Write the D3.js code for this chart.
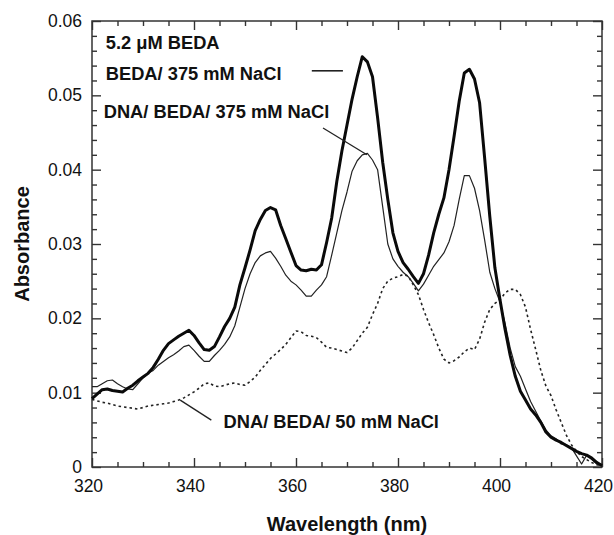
<!DOCTYPE html>
<html>
<head>
<meta charset="utf-8">
<script src="https://cdn.jsdelivr.net/npm/d3@7"></script>
<style>
  html, body { margin: 0; padding: 0; background: #fff; }
  svg text { font-family: "Liberation Sans", Arial, Helvetica, sans-serif; fill: #111; }
</style>
</head>
<body>
<div id="chart"></div>
<script>
// wavelength grid (nm), 1 nm steps
const wavelength = d3.range(320, 421, 1);

// BEDA / 375 mM NaCl (thick line)
const bedaHighSalt = [
  0.0092, 0.0098, 0.0104, 0.0105, 0.0103, 0.0102, 0.0101, 0.0106, 0.0110, 0.0116,
  0.0121, 0.0126, 0.0134, 0.0145, 0.0157, 0.0166, 0.0171, 0.0176, 0.0180, 0.0184,
  0.0177, 0.0167, 0.0158, 0.0157, 0.0162, 0.0175, 0.0189, 0.0200, 0.0215, 0.0245,
  0.0268, 0.0292, 0.0318, 0.0333, 0.0345, 0.0349, 0.0346, 0.0325, 0.0307, 0.0289,
  0.0271, 0.0265, 0.0264, 0.0266, 0.0265, 0.0272, 0.0302, 0.0335, 0.0384, 0.0425,
  0.0460, 0.0495, 0.0525, 0.0552, 0.0545, 0.0525, 0.0470, 0.0410, 0.0360, 0.0315,
  0.0290, 0.0275, 0.0266, 0.0256, 0.0247, 0.0260, 0.0285, 0.0315, 0.0340, 0.0362,
  0.0400, 0.0445, 0.0492, 0.0530, 0.0535, 0.0522, 0.0490, 0.0415, 0.0337, 0.0268,
  0.0225, 0.0185, 0.0150, 0.0122, 0.0102, 0.0090, 0.0078, 0.0070, 0.0060, 0.0047,
  0.0040, 0.0036, 0.0033, 0.0029, 0.0025, 0.0021, 0.0018, 0.0016, 0.0012, 0.0006,
  0.0002
];

// DNA / BEDA / 375 mM NaCl (thin line)
const dnaBedaHighSalt = [
  0.0108, 0.0108, 0.0112, 0.0116, 0.0117, 0.0112, 0.0108, 0.0105, 0.0104, 0.0112,
  0.0120, 0.0126, 0.0130, 0.0137, 0.0142, 0.0147, 0.0151, 0.0156, 0.0162, 0.0164,
  0.0157, 0.0149, 0.0142, 0.0142, 0.0150, 0.0157, 0.0165, 0.0175, 0.0190, 0.0215,
  0.0240, 0.0260, 0.0275, 0.0284, 0.0288, 0.0290, 0.0281, 0.0270, 0.0258, 0.0250,
  0.0245, 0.0238, 0.0230, 0.0230, 0.0238, 0.0245, 0.0256, 0.0285, 0.0315, 0.0345,
  0.0370, 0.0398, 0.0412, 0.0420, 0.0422, 0.0413, 0.0400, 0.0350, 0.0300, 0.0280,
  0.0270, 0.0262, 0.0256, 0.0247, 0.0237, 0.0246, 0.0258, 0.0270, 0.0279, 0.0288,
  0.0303, 0.0325, 0.0360, 0.0392, 0.0392, 0.0375, 0.0345, 0.0305, 0.0262, 0.0240,
  0.0222, 0.0193, 0.0160, 0.0135, 0.0122, 0.0105, 0.0088, 0.0075, 0.0062, 0.0050,
  0.0042, 0.0038, 0.0031, 0.0030, 0.0026, 0.0015, 0.0004, 0.0016, 0.0010, 0.0004,
  0.0001
];

// DNA / BEDA / 50 mM NaCl (dotted line)
const dnaBedaLowSalt = [
  0.0091, 0.0089, 0.0087, 0.0086, 0.0084, 0.0082, 0.0081, 0.0080, 0.0079, 0.0078,
  0.0080, 0.0082, 0.0083, 0.0084, 0.0085, 0.0086, 0.0088, 0.0090, 0.0093, 0.0097,
  0.0101, 0.0106, 0.0112, 0.0113, 0.0109, 0.0108, 0.0110, 0.0112, 0.0113, 0.0111,
  0.0110, 0.0115, 0.0121, 0.0130, 0.0138, 0.0146, 0.0152, 0.0158, 0.0165, 0.0174,
  0.0183, 0.0182, 0.0177, 0.0176, 0.0174, 0.0168, 0.0161, 0.0160, 0.0158, 0.0156,
  0.0154, 0.0160, 0.0170, 0.0180, 0.0188, 0.0205, 0.0220, 0.0240, 0.0250, 0.0254,
  0.0256, 0.0259, 0.0257, 0.0245, 0.0232, 0.0212, 0.0194, 0.0178, 0.0160, 0.0145,
  0.0140, 0.0143, 0.0148, 0.0155, 0.0160, 0.0158, 0.0172, 0.0195, 0.0212, 0.0220,
  0.0225, 0.0234, 0.0239, 0.0239, 0.0232, 0.0215, 0.0185, 0.0158, 0.0130, 0.0109,
  0.0096, 0.0077, 0.0060, 0.0043, 0.0030, 0.0021, 0.0014, 0.0010, 0.0006, 0.0003,
  0.0001
];

const xTicks = [320, 340, 360, 380, 400, 420];
const yTicks = [0, 0.01, 0.02, 0.03, 0.04, 0.05, 0.06];

const outerW = 614, outerH = 535;
const margin = { top: 21, right: 12, bottom: 68, left: 92 };
const width = outerW - margin.left - margin.right;
const height = outerH - margin.top - margin.bottom;

const svg = d3.select("#chart")
    .append("svg")
    .attr("width", outerW)
    .attr("height", outerH)
    .append("g")
    .attr("transform", "translate(" + margin.left + "," + margin.top + ")");

const x = d3.scaleLinear().domain([320, 420]).range([0, width]);
const y = d3.scaleLinear().domain([0, 0.06]).range([height, 0]);

const xMinor = d3.range(320, 421, 5).filter(d => !xTicks.includes(d));
const yMinor = d3.range(0, 31, 1).map(i => i * 0.002).filter((d, i) => i % 5 !== 0);

function styleAxis(g) {
    g.select(".domain").remove();
    g.selectAll(".tick line").attr("stroke", "#333").attr("stroke-width", 1.4);
    g.selectAll(".tick text")
        .style("font-size", "17.5px")
        .style("font-family", "'Liberation Sans', Arial, sans-serif")
        .attr("fill", "#111");
}

// bottom
svg.append("g").attr("transform", "translate(0," + height + ")")
    .call(d3.axisBottom(x).tickValues(xTicks).tickSize(-9).tickPadding(13).tickFormat(d3.format("d")))
    .call(styleAxis)
    .selectAll(".tick text").attr("dx", -4);
svg.append("g").attr("transform", "translate(0," + height + ")")
    .call(d3.axisBottom(x).tickValues(xMinor).tickSize(-5).tickFormat(""))
    .call(styleAxis);
// top
svg.append("g")
    .call(d3.axisTop(x).tickValues(xTicks).tickSize(-9).tickFormat(""))
    .call(styleAxis);
svg.append("g")
    .call(d3.axisTop(x).tickValues(xMinor).tickSize(-5).tickFormat(""))
    .call(styleAxis);
// left
svg.append("g")
    .call(d3.axisLeft(y).tickValues(yTicks).tickSize(-9).tickPadding(10)
        .tickFormat(d => d === 0 ? "0" : d.toFixed(2)))
    .call(styleAxis);
svg.append("g")
    .call(d3.axisLeft(y).tickValues(yMinor).tickSize(-5).tickFormat(""))
    .call(styleAxis);
// right
svg.append("g").attr("transform", "translate(" + width + ",0)")
    .call(d3.axisRight(y).tickValues(yTicks).tickSize(-9).tickFormat(""))
    .call(styleAxis);
svg.append("g").attr("transform", "translate(" + width + ",0)")
    .call(d3.axisRight(y).tickValues(yMinor).tickSize(-5).tickFormat(""))
    .call(styleAxis);

// frame
svg.append("rect")
    .attr("x", 0).attr("y", 0)
    .attr("width", width).attr("height", height)
    .attr("fill", "none")
    .attr("stroke", "#333")
    .attr("stroke-width", 1.5);

// axis titles
svg.append("text")
    .attr("text-anchor", "middle")
    .attr("x", width / 2)
    .attr("y", height + 64)
    .style("font-size", "20px")
    .style("font-weight", "bold")
    .text("Wavelength (nm)");

svg.append("text")
    .attr("text-anchor", "middle")
    .attr("transform", "rotate(-90)")
    .attr("x", -height / 2)
    .attr("y", -63)
    .style("font-size", "20px")
    .style("font-weight", "bold")
    .text("Absorbance");

// curves
const series = [
    { values: dnaBedaLowSalt, width: 1.6, dash: "2.5,3", color: "#222" },
    { values: dnaBedaHighSalt, width: 1.2, dash: null, color: "#222" },
    { values: bedaHighSalt, width: 3, dash: null, color: "#0a0a0a" }
];

const line = d3.line()
    .x(d => x(d[0]))
    .y(d => y(d[1]));

series.forEach(s => {
    svg.append("path")
        .datum(wavelength.map((w, i) => [w, s.values[i]]))
        .attr("fill", "none")
        .attr("stroke", s.color)
        .attr("stroke-width", s.width)
        .attr("stroke-linejoin", "round")
        .attr("stroke-dasharray", s.dash)
        .attr("d", line);
});

// annotations
function label(txt, wx, ay) {
    svg.append("text")
        .attr("x", x(wx))
        .attr("y", y(ay))
        .style("font-size", "18.3px")
        .style("font-weight", "bold")
        .text(txt);
}
function leader(x1, y1, x2, y2, w) {
    svg.append("line")
        .attr("x1", x(x1)).attr("y1", y(y1))
        .attr("x2", x(x2)).attr("y2", y(y2))
        .attr("stroke", "#222")
        .attr("stroke-width", w);
}

label("5.2 \u03bcM BEDA", 322.7, 0.0562);
label("BEDA/ 375 mM NaCl", 322.7, 0.0521);
label("DNA/ BEDA/ 375 mM NaCl", 322.3, 0.0470);
label("DNA/ BEDA/ 50 mM NaCl", 345.8, 0.0053);

leader(363.1, 0.0533, 369.2, 0.0533, 1.6);
leader(365.3, 0.0456, 373.9, 0.0420, 1.3);
leader(337.3, 0.0090, 343.4, 0.0063, 1.3);
</script>
</body>
</html>
